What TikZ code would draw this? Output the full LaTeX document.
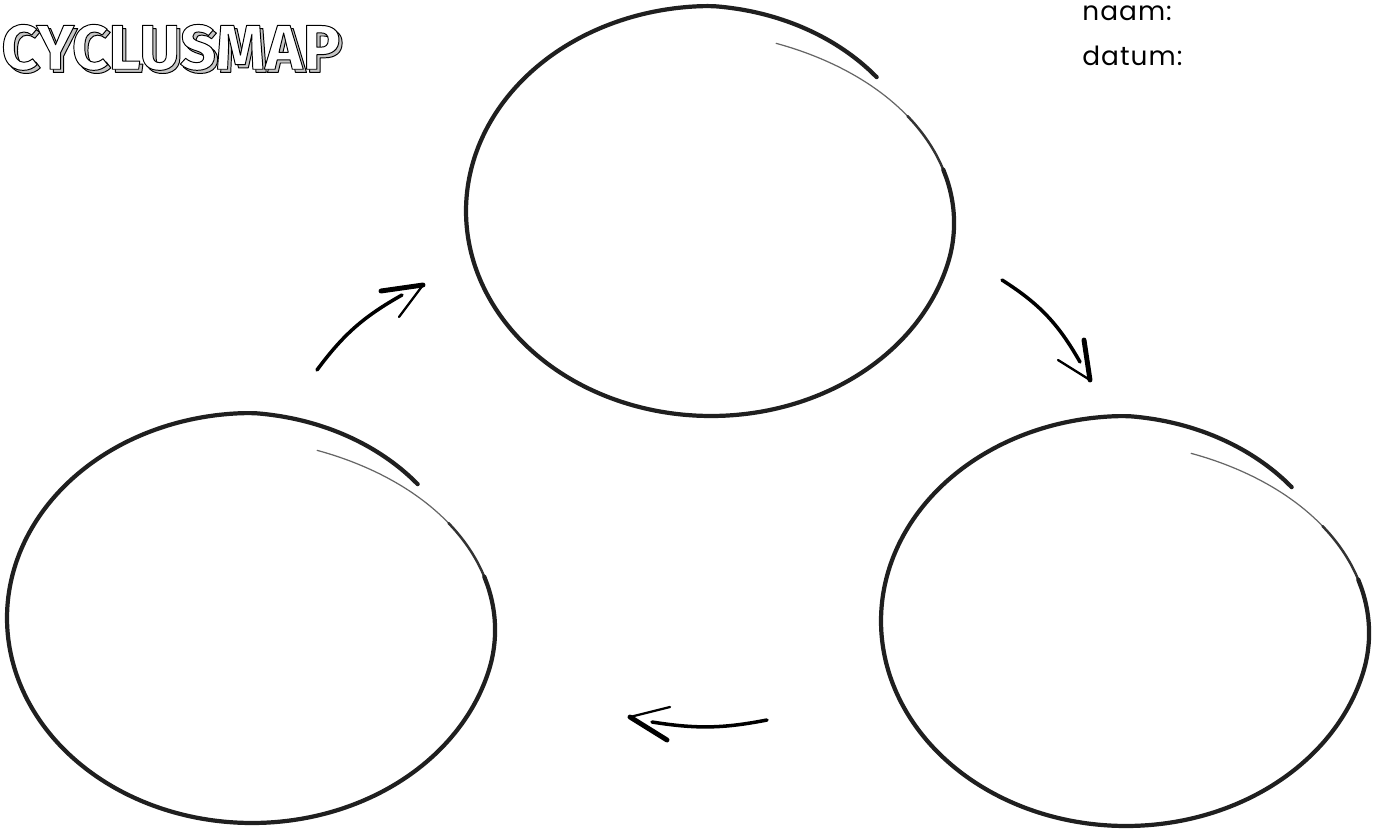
\documentclass[tikz,border=0pt]{standalone}
\usepackage{fontspec}
\setmainfont{Fira Sans}
\newfontfamily\handfont[LetterSpace=4]{Poppins}
\usetikzlibrary{positioning,calc}
% outlined letters: fill colour #1, black stroke
\newcommand{\hollow}[2]{{\color{#1}\special{pdf:literal direct 2 Tr 0.55 w 0 G 1 j}#2\special{pdf:literal direct 0 Tr}}}
% radius factor of the sketched ring at angle #1
\newcommand{\rf}[1]{(1-0.07*(1-cos(2.069*max(0,#1+15)))-0.06*max(0,-270-#1)/46)}
\tikzset{
  ink/.style={line width=2.4pt, line cap=round, draw=black!88},
  faint/.style={line width=0.7pt, line cap=round, draw=black!60},
  shaft/.style={line width=2pt, line cap=round},
  barb/.style={line width=1.3pt, line cap=round},
  heavybarb/.style={line width=2.8pt, line cap=round},
  field/.style={font=\handfont\fontsize{15}{18}\selectfont, anchor=base west, inner sep=0pt},
  titlefont/.style={font=\bfseries\fontsize{36}{40}\selectfont, anchor=north west, inner sep=0pt},
  pics/ring/.style={code={
    \draw[faint] plot[smooth, domain=72:-16, samples=40]
      ({245*\rf{\x}*cos(\x)}, {-205*\rf{\x}*sin(\x)});
    \draw[line width=1.4pt, line cap=round, draw=black!80] plot[smooth, domain=30:-4, samples=14]
      ({245*\rf{\x}*cos(\x)}, {-205*\rf{\x}*sin(\x)});
    \draw[ink] plot[smooth, domain=12:-316, samples=110]
      ({245*\rf{\x}*cos(\x)}, {-205*\rf{\x}*sin(\x)});
  }},
}

\begin{document}
\begin{tikzpicture}[x=0.02cm, y=-0.02cm]
  \useasboundingbox (0,0) rectangle (1387,832);
  % title and fields
  \node[titlefont] (titel) at (1,24) {\makebox[0pt][l]{\hspace{1.8pt}\raisebox{-1.8pt}{\hollow{gray!45}{CYCLUSMAP}}}\hollow{white}{CYCLUSMAP}};
  \node[field] (naam) at (1082,20) {naam:};
  \node[field] (datum) at (1082,65) {datum:};
  % rings
  \pic (boven) at (711,211) {ring};
  \pic (links) at (252,618) {ring};
  \pic (rechts) at (1126,621) {ring};
  % arrows
  \coordinate (opS) at (317,370); \coordinate (opE) at (402,295); \coordinate (opT) at (423,285);
  \draw[shaft] (opS) to[bend left=12] (opE);
  \draw[heavybarb] (opT) -- ++(-42,6);
  \draw[barb] (opT) -- ++(-24,32);
  \coordinate (neerS) at (1002,280); \coordinate (neerE) at (1080,362); \coordinate (neerT) at (1090,380);
  \draw[shaft] (neerS) to[bend left=14] (neerE);
  \draw[heavybarb] (neerT) -- ++(-6,-40);
  \draw[barb] (neerT) -- ++(-32,-20);
  \coordinate (terugS) at (767,720); \coordinate (terugE) at (652,722); \coordinate (terugT) at (630,717);
  \draw[shaft] (terugS) to[bend left=10] (terugE);
  \draw[barb] (terugT) -- ++(40,-10);
  \draw[heavybarb] (terugT) -- ++(37,23);
\end{tikzpicture}
\end{document}
